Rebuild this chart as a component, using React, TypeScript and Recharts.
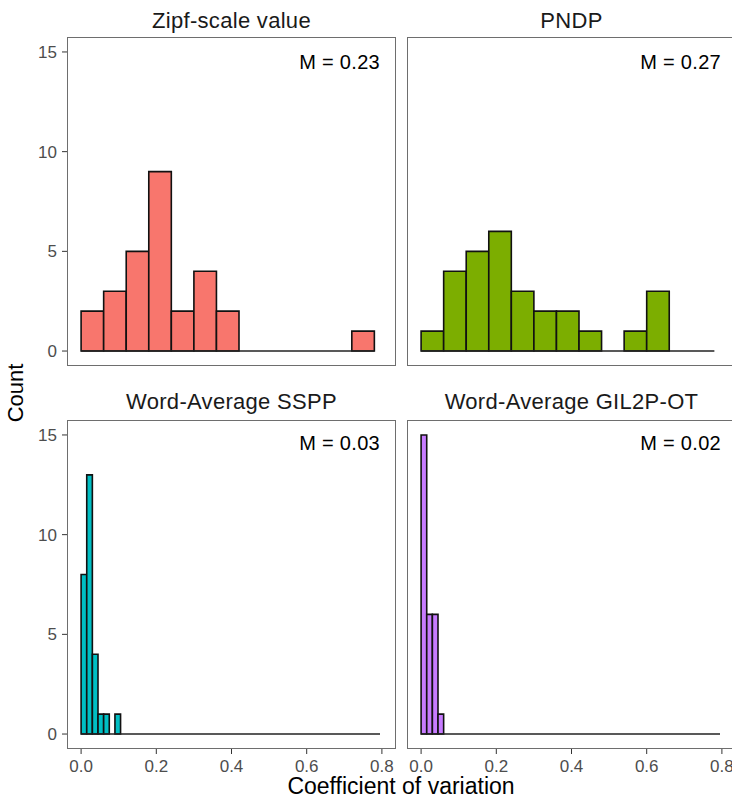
import React from "react";
import { ComposedChart, Bar, XAxis, YAxis, ReferenceLine } from "recharts";

// ---- data (counts per bin, bins start at 0) ----
const TOP_BIN_WIDTH = 0.06;
const BOTTOM_BIN_WIDTH = 0.015;

const zipfCounts = [2, 3, 5, 9, 2, 4, 2, 0, 0, 0, 0, 0, 1];
const pndpCounts = [1, 4, 5, 6, 3, 2, 2, 1, 0, 1, 3, 0, 0];
const ssppCounts = [
  8, 13, 4, 1, 1, 0, 1, 0, 0, 0, 0, 0, 0, 0, 0, 0, 0, 0, 0, 0,
  0, 0, 0, 0, 0, 0, 0, 0, 0, 0, 0, 0, 0, 0, 0, 0, 0, 0, 0, 0,
  0, 0, 0, 0, 0, 0, 0, 0, 0, 0, 0, 0, 0,
];
const gilCounts = [
  15, 6, 6, 1, 0, 0, 0, 0, 0, 0, 0, 0, 0, 0, 0, 0, 0, 0, 0, 0,
  0, 0, 0, 0, 0, 0, 0, 0, 0, 0, 0, 0, 0, 0, 0, 0, 0, 0, 0, 0,
  0, 0, 0, 0, 0, 0, 0, 0, 0, 0, 0, 0, 0,
];

const panelTitles = ["Zipf-scale value", "PNDP", "Word-Average SSPP", "Word-Average GIL2P-OT"];
const meanLabels = ["M = 0.23", "M = 0.27", "M = 0.03", "M = 0.02"];
const panelColors = ["#F8766D", "#7CAE00", "#00BFC4", "#C77CFF"];

const xTicks = [0, 0.2, 0.4, 0.6, 0.8];
const yTicks = [0, 5, 10, 15];
const X_DOMAIN: [number, number] = [-0.0375, 0.8375];
const Y_DOMAIN: [number, number] = [-0.75, 15.75];

// ---- layout ----
const FONT = '"Liberation Sans", Arial, Helvetica, sans-serif';
const PLOT_W = 329;
const PLOT_H = 329;
const MARGIN_TOP = 37;
const Y_AXIS_W = 67;
const X_AXIS_H = 50;
const COL_LEFT = [0, 407];
const ROW_TOP = [0, 383];

type PanelProps = {
  counts: number[];
  binWidth: number;
  fill: string;
  showY: boolean;
  showX: boolean;
  left: number;
  top: number;
};

function Panel({ counts, binWidth, fill, showY, showX, left, top }: PanelProps) {
  const data = counts.map((c, i) => ({ x: (i + 0.5) * binWidth, count: c }));
  const yW = showY ? Y_AXIS_W : 0;
  const xH = showX ? X_AXIS_H : 0;
  const chartW = yW + PLOT_W;
  const chartH = MARGIN_TOP + PLOT_H + xH;
  const pxPerUnit = PLOT_W / (X_DOMAIN[1] - X_DOMAIN[0]);
  const barSize = binWidth * pxPerUnit - 0.02;
  const end = counts.length * binWidth;
  return (
    <div style={{ position: "absolute", left, top, width: chartW, height: chartH }}>
      <ComposedChart
        width={chartW}
        height={chartH}
        data={data}
        margin={{ top: MARGIN_TOP, right: 0, bottom: 0, left: 0 }}
        barCategoryGap={0}
        barGap={0}
      >
        <XAxis
          type="number"
          dataKey="x"
          domain={X_DOMAIN}
          ticks={xTicks}
          interval={0}
          hide={!showX}
          height={X_AXIS_H}
          allowDataOverflow
          axisLine={false}
          tickLine={{ stroke: "#333333" }}
          tickSize={5}
          tickMargin={6}
          tick={{ fill: "#4d4d4d", fontSize: 17, fontFamily: FONT }}
          tickFormatter={(v: number) => v.toFixed(1)}
        />
        <YAxis
          type="number"
          domain={Y_DOMAIN}
          ticks={yTicks}
          interval={0}
          hide={!showY}
          width={Y_AXIS_W}
          allowDataOverflow
          axisLine={false}
          tickLine={{ stroke: "#333333" }}
          tickSize={5}
          tickMargin={5}
          tick={{ fill: "#4d4d4d", fontSize: 17, fontFamily: FONT }}
        />
        <ReferenceLine
          segment={[{ x: 0, y: 0 }, { x: end, y: 0 }]}
          stroke="#222222"
          strokeWidth={1.6}
          ifOverflow="visible"
        />
        <Bar
          dataKey="count"
          fill={fill}
          stroke="#111111"
          strokeWidth={1.6}
          barSize={barSize}
          isAnimationActive={false}
        />
      </ComposedChart>
      <div
        style={{
          position: "absolute",
          left: yW,
          top: MARGIN_TOP,
          width: PLOT_W,
          height: PLOT_H,
          border: "1px solid #6e6e6e",
          boxSizing: "border-box",
          pointerEvents: "none",
        }}
      />
    </div>
  );
}

export default function App() {
  const allCounts = [zipfCounts, pndpCounts, ssppCounts, gilCounts];
  const binWidths = [TOP_BIN_WIDTH, TOP_BIN_WIDTH, BOTTOM_BIN_WIDTH, BOTTOM_BIN_WIDTH];
  return (
    <div
      style={{
        position: "absolute",
        left: 0,
        top: 0,
        width: 732,
        height: 798,
        overflow: "hidden",
        background: "#ffffff",
        fontFamily: FONT,
      }}
    >
      {allCounts.map((counts, i) => {
        const col = i % 2;
        const row = Math.floor(i / 2);
        return (
          <Panel
            key={i}
            counts={counts}
            binWidth={binWidths[i]}
            fill={panelColors[i]}
            showY={col === 0}
            showX={row === 1}
            left={col === 0 ? COL_LEFT[0] : COL_LEFT[1]}
            top={ROW_TOP[row]}
          />
        );
      })}
      <svg
        width={732}
        height={798}
        style={{ position: "absolute", left: 0, top: 0, pointerEvents: "none" }}
      >
        {panelTitles.map((t, i) => {
          const col = i % 2;
          const row = Math.floor(i / 2);
          const plotLeft = col === 0 ? Y_AXIS_W : COL_LEFT[1];
          const cx = plotLeft + PLOT_W / 2;
          const y = row === 0 ? 27.5 : 408.5;
          return (
            <text
              key={"t" + i}
              x={cx}
              y={y}
              textAnchor="middle"
              fontSize={22}
              letterSpacing={0.3}
              fill="#1a1a1a"
              fontFamily={FONT}
            >
              {t}
            </text>
          );
        })}
        {meanLabels.map((t, i) => {
          const col = i % 2;
          const row = Math.floor(i / 2);
          const x = col === 0 ? 380 : 721;
          const y = row === 0 ? 68.5 : 450;
          return (
            <text
              key={"m" + i}
              x={x}
              y={y}
              textAnchor="end"
              fontSize={20}
              letterSpacing={0.3}
              fill="#000000"
              fontFamily={FONT}
            >
              {t}
            </text>
          );
        })}
        <text
          x={23}
          y={393}
          transform="rotate(-90 23 393)"
          textAnchor="middle"
          fontSize={22}
          fill="#000000"
          fontFamily={FONT}
        >
          Count
        </text>
        <text
          x={401}
          y={794}
          textAnchor="middle"
          fontSize={23}
          fill="#000000"
          fontFamily={FONT}
        >
          Coefficient of variation
        </text>
      </svg>
    </div>
  );
}
